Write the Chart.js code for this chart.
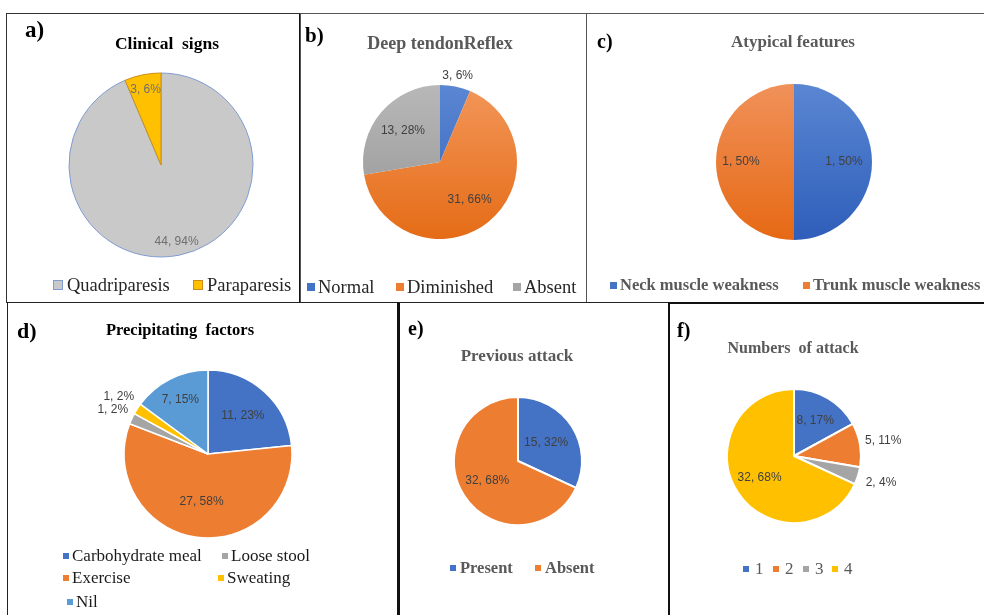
<!DOCTYPE html>
<html>
<head>
<meta charset="utf-8">
<script src="https://cdn.jsdelivr.net/npm/chart.js@4.4.0/dist/chart.umd.min.js"></script>
<style>
  body { margin: 0; background: #fff; }
  #fig { position: relative; width: 984px; height: 615px; overflow: hidden; background: #fff; }
  .panel { position: absolute; box-sizing: border-box; border: 1px solid #333; }
  canvas { position: absolute; }
  .tag { position: absolute; font-family: "Liberation Serif"; font-weight: bold; color: #000; white-space: nowrap; }
  .title { position: absolute; transform: translateX(-50%); font-family: "Liberation Serif"; font-weight: bold;
           white-space: pre; line-height: 20px; }
  .item { position: absolute; display: flex; align-items: center; white-space: nowrap; height: 24px;
          font-family: "Liberation Serif"; }
  .box { display: inline-block; box-sizing: border-box; flex: none; }
</style>
</head>
<body>
<div id="fig"></div>
<script>
// chart data
const clinicalLabels = ['Quadriparesis', 'Paraparesis'];
const clinicalValues = [44, 3];

const reflexLabels = ['Normal', 'Diminished', 'Absent'];
const reflexValues = [3, 31, 13];

const atypicalLabels = ['Neck muscle weakness', 'Trunk muscle weakness'];
const atypicalValues = [1, 1];

const factorLabels = ['Carbohydrate meal', 'Exercise', 'Loose stool', 'Sweating', 'Nil'];
const factorValues = [11, 27, 1, 1, 7];

const previousLabels = ['Present', 'Absent'];
const previousValues = [15, 32];

const attackLabels = ['1', '2', '3', '4'];
const attackValues = [8, 5, 2, 32];

// vertical gradient fill per slice, like the office chart style
function grad(stops) {
    return function (c) {
        const pair = stops[c.dataIndex % stops.length];
        const area = c.chart.chartArea;
        if (!area) return pair[1];
        const g = c.chart.ctx.createLinearGradient(0, area.top, 0, area.bottom);
        g.addColorStop(0, pair[0]);
        g.addColorStop(1, pair[1]);
        return g;
    };
}

// percentages rounded so they add up to 100 (as the spreadsheet does)
function percents(values) {
    const total = values.reduce((a, b) => a + b, 0);
    const raw = values.map(v => v / total * 100);
    const out = raw.map(Math.floor);
    let left = 100 - out.reduce((a, b) => a + b, 0);
    const order = raw.map((r, i) => i).sort((a, b) => (raw[b] - out[b]) - (raw[a] - out[a]));
    for (let k = 0; k < left; k++) out[order[k]]++;
    return out;
}

const sliceLabels = {
    id: 'sliceLabels',
    afterDatasetsDraw(chart, args, opts) {
        const ctx = chart.ctx;
        const values = chart.data.datasets[0].data;
        const pct = percents(values);
        const meta = chart.getDatasetMeta(0);
        ctx.save();
        ctx.font = opts.font;
        ctx.fillStyle = opts.color;
        ctx.textAlign = 'center';
        ctx.textBaseline = 'middle';
        meta.data.forEach((arc, i) => {
            const p = arc.getProps(['x', 'y', 'startAngle', 'endAngle', 'outerRadius']);
            const mid = (p.startAngle + p.endAngle) / 2;
            const k = opts.radius[i];
            ctx.fillText(values[i] + ', ' + pct[i] + '%',
                p.x + Math.cos(mid) * p.outerRadius * k,
                p.y + Math.sin(mid) * p.outerRadius * k);
        });
        ctx.restore();
    }
};

const panels = [
    {
        tag: 'a)', tagSize: 23, tagPos: [25, 29],
        title: 'Clinical  signs', titleSize: 17.5, titleColor: '#000', titlePos: [167, 43],
        rect: [6, 13, 295, 290], border: '1px solid #333', borderRight: '2px solid #111',
        pie: [161, 165, 92],
        labels: clinicalLabels, values: clinicalValues,
        fill: ['#C9C9C9', '#FFC000'], legendFill: ['#C9C9C9', '#FFC000'],
        edge: ['#7F9CD3', '#C98F1A'], edgeWidth: 1,
        labelRadius: [0.85, 0.84], labelColor: '#6F6F6F',
        legendFont: '18.5px "Liberation Serif"', legendColor: '#262626',
        box: 10, boxGap: 4, boxEdge: ['#7F9CD3', '#C98F1A'],
        items: [[53, 285], [193, 285]]
    },
    {
        tag: 'b)', tagSize: 21, tagPos: [305, 35],
        title: 'Deep tendonReflex', titleSize: 18, titleColor: '#595959', titlePos: [440, 43],
        rect: [300, 13, 287, 290], border: '1px solid #555',
        pie: [440, 162, 77],
        labels: reflexLabels, values: reflexValues,
        fill: grad([['#5A86D2', '#3563BC'], ['#F29659', '#E56C16'], ['#B8B8B8', '#939393']]),
        legendFill: ['#4472C4', '#ED7D31', '#A5A5A5'],
        edge: 'rgba(0,0,0,0)', edgeWidth: 0,
        labelRadius: [1.15, 0.62, 0.63], labelColor: '#404040',
        legendFont: '18.5px "Liberation Serif"', legendColor: '#262626',
        box: 8, boxGap: 3,
        items: [[307, 287], [396, 287], [513, 287]]
    },
    {
        tag: 'c)', tagSize: 20, tagPos: [597, 41],
        title: 'Atypical features', titleSize: 17, titleColor: '#595959', titlePos: [793, 42],
        rect: [586, 13, 420, 290], border: '1px solid #555',
        pie: [794, 162, 78],
        labels: atypicalLabels, values: atypicalValues,
        fill: grad([['#5A86D2', '#2E5EBA'], ['#F0915A', '#E66914']]),
        legendFill: ['#4472C4', '#ED7D31'],
        edge: 'rgba(0,0,0,0)', edgeWidth: 0,
        labelRadius: [0.64, 0.68], labelColor: '#404040',
        legendFont: 'bold 16.5px "Liberation Serif"', legendColor: '#595959',
        box: 7, boxGap: 3,
        items: [[610, 285], [803, 285]]
    },
    {
        tag: 'd)', tagSize: 22, tagPos: [17, 331],
        title: 'Precipitating  factors', titleSize: 16.5, titleColor: '#000', titlePos: [180, 330],
        rect: [7, 302, 392, 330], border: '1px solid #222', borderRight: '2px solid #111',
        pie: [208, 454, 84],
        labels: factorLabels, values: factorValues,
        fill: ['#4472C4', '#ED7D31', '#A5A5A5', '#FFC000', '#5B9BD5'],
        legendFill: ['#4472C4', '#ED7D31', '#A5A5A5', '#FFC000', '#5B9BD5'],
        edge: '#fff', edgeWidth: 1.5,
        labelRadius: [0.62, 0.57, 1.25, 1.26, 0.73], labelColor: '#404040',
        legendFont: '17px "Liberation Serif"', legendColor: '#1a1a1a',
        box: 6, boxGap: 3,
        items: [[63, 556], [63, 578], [222, 556], [218, 578], [67, 602]]
    },
    {
        tag: 'e)', tagSize: 20, tagPos: [408, 328],
        title: 'Previous attack', titleSize: 17, titleColor: '#595959', titlePos: [517, 356],
        rect: [398, 302, 272, 330], border: '1px solid #222', borderLeft: '2px solid #111', borderRight: '2px solid #111',
        pie: [518, 461, 64],
        labels: previousLabels, values: previousValues,
        fill: ['#4472C4', '#ED7D31'], legendFill: ['#4472C4', '#ED7D31'],
        edge: '#fff', edgeWidth: 2,
        labelRadius: [0.52, 0.57], labelColor: '#404040',
        legendFont: 'bold 16.5px "Liberation Serif"', legendColor: '#595959',
        box: 6, boxGap: 4,
        items: [[450, 568], [535, 568]]
    },
    {
        tag: 'f)', tagSize: 20, tagPos: [677, 330],
        title: 'Numbers  of attack', titleSize: 16, titleColor: '#595959', titlePos: [793, 348],
        rect: [668, 302, 340, 330], border: '1px solid #111', borderLeft: '2px solid #111', borderTop: '2px solid #111',
        pie: [794, 456, 67],
        labels: attackLabels, values: attackValues,
        fill: ['#4472C4', '#ED7D31', '#A5A5A5', '#FFC000'], legendFill: ['#4472C4', '#ED7D31', '#A5A5A5', '#FFC000'],
        edge: '#fff', edgeWidth: 2,
        labelRadius: [0.62, 1.35, 1.36, 0.61], labelColor: '#404040',
        legendFont: '17px "Liberation Serif"', legendColor: '#595959',
        box: 6, boxGap: 6,
        items: [[743, 569], [773, 569], [803, 569], [832, 569]]
    }
];

const fig = document.getElementById('fig');

panels.forEach(p => {
    const [px, py, pw, ph] = p.rect;

    const frame = document.createElement('div');
    frame.className = 'panel';
    Object.assign(frame.style, { left: px + 'px', top: py + 'px', width: pw + 'px', height: ph + 'px', border: p.border });
    if (p.borderRight) frame.style.borderRight = p.borderRight;
    if (p.borderLeft) frame.style.borderLeft = p.borderLeft;
    if (p.borderTop) frame.style.borderTop = p.borderTop;
    fig.appendChild(frame);

    // pie canvas covers the panel; padding puts the pie where the reference has it
    const canvas = document.createElement('canvas');
    canvas.width = pw;
    canvas.height = ph;
    Object.assign(canvas.style, { left: px + 'px', top: py + 'px', width: pw + 'px', height: ph + 'px' });
    fig.appendChild(canvas);

    const [cx, cy, r0] = p.pie;
    const r = r0 + p.edgeWidth / 2;
    new Chart(canvas.getContext('2d'), {
        type: 'pie',
        data: {
            labels: p.labels,
            datasets: [{
                data: p.values,
                backgroundColor: p.fill,
                borderColor: p.edge,
                borderWidth: p.edgeWidth
            }]
        },
        options: {
            responsive: false,
            animation: false,
            layout: {
                padding: {
                    left: cx - r - px,
                    top: cy - r - py,
                    right: pw - (cx + r - px),
                    bottom: ph - (cy + r - py)
                }
            },
            plugins: {
                legend: { display: false },
                tooltip: { enabled: false },
                sliceLabels: { font: '12px "Liberation Sans"', color: p.labelColor, radius: p.labelRadius }
            }
        },
        plugins: [sliceLabels]
    });

    const tag = document.createElement('div');
    tag.className = 'tag';
    tag.textContent = p.tag;
    Object.assign(tag.style, {
        left: p.tagPos[0] + 'px', top: (p.tagPos[1] - p.tagSize / 2) + 'px',
        fontSize: p.tagSize + 'px', lineHeight: p.tagSize + 'px'
    });
    fig.appendChild(tag);

    const title = document.createElement('div');
    title.className = 'title';
    title.textContent = p.title;
    Object.assign(title.style, {
        left: p.titlePos[0] + 'px', top: (p.titlePos[1] - 10) + 'px',
        fontSize: p.titleSize + 'px', color: p.titleColor
    });
    fig.appendChild(title);

    p.labels.forEach((label, i) => {
        const item = document.createElement('div');
        item.className = 'item';
        Object.assign(item.style, {
            left: p.items[i][0] + 'px', top: (p.items[i][1] - 12) + 'px',
            font: p.legendFont, color: p.legendColor
        });
        const box = document.createElement('span');
        box.className = 'box';
        Object.assign(box.style, {
            width: p.box + 'px', height: p.box + 'px', background: p.legendFill[i],
            marginRight: p.boxGap + 'px'
        });
        if (p.boxEdge) box.style.border = '1px solid ' + p.boxEdge[i];
        const text = document.createElement('span');
        text.textContent = label;
        item.appendChild(box);
        item.appendChild(text);
        fig.appendChild(item);
    });
});
</script>
</body>
</html>
